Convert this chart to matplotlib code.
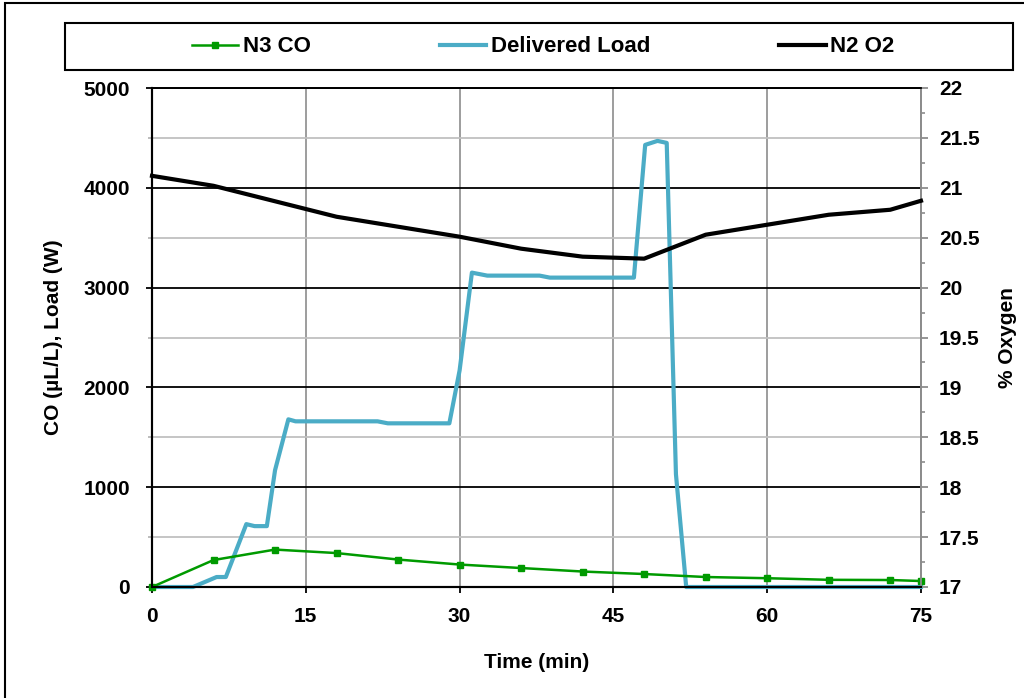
import matplotlib
matplotlib.use('Agg')
import matplotlib.pyplot as plt
from matplotlib.patches import Rectangle
from matplotlib.ticker import MultipleLocator

plt.rcParams['font.family'] = ['Liberation Sans', 'DejaVu Sans']
plt.rcParams['font.weight'] = 'bold'
plt.rcParams['font.size'] = 15

# N3 CO (uL/L), sampled every 6 min
t_co = [0, 6, 12, 18, 24, 30, 36, 42, 48, 54, 60, 66, 72, 75]
co = [0, 270, 375, 340, 275, 225, 190, 155, 130, 100, 88, 72, 70, 60]

# Delivered load (W)
t_load = [0, 4, 6.3, 7.2, 9.2, 10, 11.2, 12, 13.3, 14, 22, 23, 29, 30, 31.2, 32.7,
          37.8, 38.8, 47, 48.1, 49.3, 50.2, 51.1, 52.1, 75]
load = [0, 0, 100, 100, 630, 610, 610, 1170, 1680, 1660, 1660, 1640, 1640, 2170, 3150, 3120,
        3120, 3100, 3100, 4430, 4470, 4450, 1130, 0, 0]

# N2 O2 (%)
t_o2 = [0, 6, 18, 24, 30, 36, 42, 48, 54, 60, 66, 72, 75]
o2 = [21.12, 21.02, 20.71, 20.61, 20.51, 20.39, 20.31, 20.29, 20.53, 20.63, 20.73, 20.78, 20.87]

fig = plt.figure(figsize=(10.24, 6.98), dpi=100)
ax = fig.add_axes([152/1024, 111/698, 769/1024, 499/698])
ax2 = ax.twinx()

blue = '#4bacc6'
green = '#009a00'
gray = '#8c8c8c'

ax.plot(t_load, load, color=blue, lw=3.0, solid_joinstyle='round', zorder=3,
        clip_on=False, label='Delivered Load')
ax.plot(t_co, co, color=green, lw=1.8, marker='s', ms=4.5, zorder=4, clip_on=False,
        label='N3 CO')
ax2.plot(t_o2, o2, color='black', lw=3.0, zorder=3, clip_on=False, label='N2 O2')

ax.set_xlim(0, 75)
ax.set_ylim(0, 5000)
ax2.set_ylim(17, 22)
ax.set_xticks(range(0, 76, 15))
ax.set_yticks(range(0, 5001, 1000))
ax.set_yticks(range(500, 5000, 1000), minor=True)
ax2.set_yticks([17 + 0.5 * i for i in range(11)])
ax2.set_yticklabels(['17', '17.5', '18', '18.5', '19', '19.5', '20', '20.5', '21', '21.5', '22'])
ax2.yaxis.set_minor_locator(MultipleLocator(0.25))

ax.grid(True, which='major', axis='y', color='black', lw=1.3)
ax.grid(True, which='minor', axis='y', color='#c0c0c0', lw=1.3)
ax.grid(True, which='major', axis='x', color=gray, lw=1.2)
ax.set_axisbelow(True)

ax.tick_params(axis='x', which='major', direction='out', length=4.3, width=1.3,
               colors='black', pad=10)
ax.tick_params(axis='y', which='major', direction='out', length=4.3, width=1.3,
               colors='black', pad=11.5)
ax.tick_params(axis='y', which='minor', direction='out', length=3, width=1.2, color='#b0b0b0')
ax2.tick_params(axis='y', which='major', direction='out', length=5, width=1.3, color=gray,
                labelcolor='black', pad=8)
ax2.tick_params(axis='y', which='minor', direction='out', length=3, width=1.2, color=gray)

for a in (ax, ax2):
    a.spines['left'].set_color('black')
    a.spines['left'].set_linewidth(1.5)
    a.spines['bottom'].set_color('black')
    a.spines['bottom'].set_linewidth(1.5)
    a.spines['top'].set_color('black')
    a.spines['top'].set_linewidth(1.3)
    a.spines['right'].set_color(gray)
    a.spines['right'].set_linewidth(1.3)

ax.set_xlabel('Time (min)', fontweight='bold')
ax.set_ylabel('CO (\u00b5L/L), Load (W)', fontweight='bold')
ax2.set_ylabel('% Oxygen', fontweight='bold')
ax.xaxis.set_label_coords(0.5, -0.132)
ax.yaxis.set_label_coords(-0.116, 0.5)
ax2.yaxis.set_label_coords(1.100, 0.5)

# legend box spanning the top of the figure
fig.patches.append(Rectangle((65/1024, 1 - 70/698), 948/1024, 47/698,
                             transform=fig.transFigure, fill=False,
                             edgecolor='black', lw=1.5))
h1, l1 = ax.get_legend_handles_labels()
h2, l2 = ax2.get_legend_handles_labels()
handles = [h1[1], h1[0], h2[0]]
labels = [l1[1], l1[0], l2[0]]
fig.legend(handles, labels, loc='center', ncol=3, fontsize=16,
           bbox_to_anchor=(543/1024, 1 - 47/698),
           frameon=False, borderaxespad=0, borderpad=0,
           handlelength=2.1, handletextpad=0.2, columnspacing=5.8)

fig.patches.append(Rectangle((5/1024, -0.01), 1.05, 1 - 3/698 + 0.01,
                             transform=fig.transFigure, fill=False,
                             edgecolor='black', lw=1.5))

fig.savefig('out.png', dpi=100)
